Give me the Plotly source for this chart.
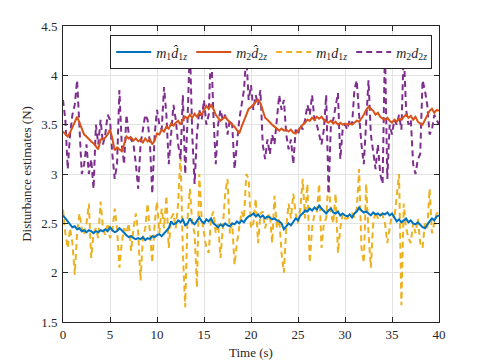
#!/usr/bin/env python3
# disturbance_estimates.py

import numpy as np
import plotly.graph_objects as go

# --- time axis (s), sampled every 0.25 s ---
time_s = np.arange(0, 40.001, 0.25)

# --- m1 * d1z estimate (solid blue) ---
m1_d1z_hat = [
    2.58, 2.55, 2.52, 2.50, 2.46, 2.47, 2.44, 2.45, 2.42,
    2.43, 2.41, 2.43, 2.42, 2.40, 2.42, 2.41, 2.43,
    2.42, 2.44, 2.42, 2.46, 2.43, 2.41, 2.42, 2.45,
    2.43, 2.40, 2.38, 2.36, 2.37, 2.35, 2.34, 2.35,
    2.34, 2.36, 2.33, 2.35, 2.34, 2.37, 2.36, 2.38,
    2.39, 2.37, 2.40, 2.42, 2.45, 2.52, 2.49, 2.50,
    2.53, 2.51, 2.54, 2.48, 2.50, 2.55, 2.51, 2.49,
    2.53, 2.56, 2.52, 2.50, 2.54, 2.52, 2.55, 2.50,
    2.48, 2.46, 2.49, 2.47, 2.50, 2.48, 2.47, 2.50,
    2.49, 2.52, 2.50, 2.53, 2.51, 2.55, 2.57, 2.58,
    2.60, 2.57, 2.59, 2.56, 2.58, 2.55, 2.57, 2.56,
    2.54, 2.55, 2.53, 2.52, 2.50, 2.44, 2.47, 2.50,
    2.48, 2.52, 2.55, 2.53, 2.58, 2.60, 2.63, 2.62,
    2.65, 2.63, 2.66, 2.64, 2.68, 2.65, 2.62, 2.60,
    2.63, 2.65, 2.61, 2.60, 2.62, 2.58, 2.60, 2.58,
    2.57, 2.59, 2.56, 2.60, 2.62, 2.66, 2.63, 2.61,
    2.62, 2.60, 2.58, 2.61, 2.59, 2.60, 2.58, 2.60,
    2.59, 2.61, 2.58, 2.60, 2.56, 2.52, 2.54, 2.51,
    2.53, 2.55, 2.51, 2.53, 2.50, 2.49, 2.51, 2.48,
    2.46, 2.45, 2.49, 2.52, 2.55, 2.53, 2.57, 2.58,
]

# --- m2 * d2z estimate (solid orange) ---
m2_d2z_hat = [
    3.43, 3.40, 3.38, 3.42, 3.48, 3.52, 3.58, 3.52, 3.45,
    3.40, 3.38, 3.35, 3.33, 3.31, 3.28, 3.25, 3.35,
    3.35, 3.37, 3.40, 3.45, 3.36, 3.24, 3.27, 3.25,
    3.23, 3.30, 3.38, 3.36, 3.37, 3.34, 3.36, 3.33,
    3.35, 3.32, 3.36, 3.33, 3.35, 3.30, 3.34, 3.41,
    3.40, 3.45, 3.43, 3.48, 3.46, 3.51, 3.49, 3.52,
    3.54, 3.50, 3.55, 3.58, 3.56, 3.60, 3.57, 3.61,
    3.58, 3.62, 3.60, 3.65, 3.69, 3.66, 3.70, 3.66,
    3.60, 3.57, 3.54, 3.56, 3.58, 3.55, 3.52, 3.50,
    3.48, 3.45, 3.41, 3.48, 3.55, 3.60, 3.66, 3.68,
    3.70, 3.73, 3.75, 3.72, 3.65, 3.57, 3.55, 3.52,
    3.50, 3.48, 3.46, 3.44, 3.46, 3.44, 3.45, 3.43,
    3.45, 3.42, 3.41, 3.44, 3.48, 3.50, 3.52, 3.55,
    3.54, 3.57, 3.55, 3.58, 3.56, 3.58, 3.55, 3.53,
    3.52, 3.54, 3.51, 3.53, 3.50, 3.52, 3.50, 3.51,
    3.50, 3.51, 3.50, 3.52, 3.54, 3.53, 3.56, 3.60,
    3.65, 3.68, 3.66, 3.64, 3.60, 3.62, 3.58, 3.56,
    3.55, 3.57, 3.54, 3.52, 3.55, 3.53, 3.56, 3.55,
    3.58, 3.60, 3.57, 3.59, 3.55, 3.58, 3.53, 3.51,
    3.50, 3.55, 3.60, 3.64, 3.66, 3.62, 3.65, 3.64,
]

# --- m1 * d1z true disturbance (dashed yellow) ---
m1_d1z = [
    2.64, 2.40, 2.25, 2.45, 2.30, 1.98, 2.40, 2.60, 2.45,
    2.38, 2.50, 2.70, 2.15, 2.40, 2.45, 2.35, 2.72,
    2.45, 2.38, 2.50, 2.35, 2.42, 2.65, 2.45, 2.05,
    2.30, 2.45, 2.40, 2.50, 2.22, 2.45, 2.60, 2.40,
    1.92, 2.35, 2.45, 2.70, 2.40, 2.10, 2.50, 2.72,
    2.40, 2.65, 2.45, 2.78, 2.25, 2.55, 2.60, 2.45,
    2.70, 3.22, 2.20, 1.65, 2.55, 2.85, 2.50, 2.40,
    1.85, 3.00, 2.55, 2.40, 2.25, 2.20, 2.55, 2.62,
    2.40, 2.50, 2.15, 2.45, 2.80, 2.95, 2.40, 2.50,
    2.08, 2.30, 2.45, 2.62, 2.55, 3.00, 2.95, 2.45,
    2.50, 2.75, 2.30, 2.60, 2.62, 2.45, 2.55, 2.60,
    2.30, 2.78, 2.45, 2.55, 2.20, 2.00, 2.45, 2.70,
    2.55, 2.80, 2.60, 2.50, 2.65, 2.95, 2.55, 2.90,
    2.10, 2.45, 2.60, 2.62, 2.90, 2.25, 2.50, 2.55,
    2.95, 2.60, 2.50, 2.80, 2.20, 2.45, 2.60, 2.55,
    2.55, 2.58, 2.60, 2.56, 2.65, 3.05, 2.25, 2.10,
    2.90, 2.40, 2.05, 2.50, 2.62, 2.55, 2.60, 2.58,
    2.50, 2.30, 2.45, 2.60, 2.55, 2.75, 3.00, 1.67,
    2.70, 2.45, 2.35, 2.30, 2.50, 2.40, 2.55, 2.30,
    2.25, 2.50, 2.45, 2.85, 2.40, 2.50, 2.60, 2.62,
]

# --- m2 * d2z true disturbance (dashed purple) ---
m2_d2z = [
    3.75, 3.55, 3.05, 3.40, 3.60, 3.70, 3.95, 3.45, 3.00,
    3.10, 3.30, 3.00, 3.15, 2.85, 3.50, 3.30, 3.55,
    3.30, 3.40, 3.60, 3.55, 3.20, 2.95, 3.10, 3.85,
    3.30, 3.10, 3.60, 3.40, 3.35, 3.30, 3.10, 2.85,
    3.30, 3.45, 3.60, 3.55, 3.30, 2.80, 3.40, 3.65,
    3.50, 3.45, 3.88, 3.60, 3.10, 3.40, 3.70, 3.55,
    3.30, 3.15, 3.80, 3.00, 3.55, 4.30, 3.40, 2.90,
    3.40, 3.65, 3.55, 3.75, 3.50, 3.60, 4.30, 3.60,
    3.10, 3.50, 3.65, 3.55, 3.60, 3.40, 3.55, 3.50,
    3.05, 3.30, 3.55, 3.70, 3.85, 4.20, 3.75, 3.90,
    3.65, 3.80, 3.70, 3.85, 3.30, 3.15, 3.35, 3.20,
    3.40, 3.30, 3.55, 3.80, 3.65, 3.75, 3.40, 3.25,
    3.35, 3.10, 3.45, 3.40, 3.50, 3.45, 3.55, 3.70,
    3.60, 3.80, 3.55, 3.50, 3.40, 3.30, 3.45, 3.80,
    2.80, 3.50, 3.55, 3.70, 3.82, 3.15, 3.45, 3.50,
    3.45, 3.55, 3.50, 3.85, 3.95, 3.60, 3.30, 3.10,
    3.50, 3.95, 3.40, 3.20, 3.05, 3.30, 3.00, 2.90,
    4.30, 2.95, 3.50, 3.40, 3.55, 3.50, 3.60, 3.45,
    4.25, 3.65, 3.50, 3.55, 3.10, 3.00, 3.15, 3.20,
    3.95, 3.85, 3.70, 3.40, 3.45, 3.60, 3.55, 3.50,
]

x_ticks = [0, 5, 10, 15, 20, 25, 30, 35, 40]
y_ticks = [1.5, 2, 2.5, 3, 3.5, 4, 4.5]
y_tick_text = ["1.5", "2", "2.5", "3", "3.5", "4", "4.5"]


def main():
    serif = '"Liberation Serif", "Times New Roman", "DejaVu Serif", serif'
    dash_pat = "6px,4px"
    ink = "#262626"

    series = [
        (m1_d1z_hat, "#0072BD", "solid",
         "<i>m</i><sub>1</sub><i>d\u0302</i><sub>1<i>z</i></sub>"),
        (m2_d2z_hat, "#D95319", "solid",
         "<i>m</i><sub>2</sub><i>d\u0302</i><sub>2<i>z</i></sub>"),
        (m1_d1z, "#EDB120", dash_pat,
         "<i>m</i><sub>1</sub><i>d</i><sub>1<i>z</i></sub>"),
        (m2_d2z, "#7E2F8E", dash_pat,
         "<i>m</i><sub>2</sub><i>d</i><sub>2<i>z</i></sub>"),
    ]

    fig = go.Figure()
    # draw dashed series first so the estimates sit on top
    for idx in [2, 3, 0, 1]:
        vals, color, dash, name = series[idx]
        fig.add_trace(go.Scatter(
            x=time_s, y=vals, mode="lines", name=name,
            line=dict(color=color, width=2, dash=dash),
            legendrank=idx,
        ))

    axis_common = dict(
        showline=True, linecolor=ink, linewidth=1, mirror="ticks",
        ticks="inside", ticklen=5, tickcolor=ink,
        showgrid=True, gridcolor="#e3e3e3", gridwidth=1,
        zeroline=False, automargin=False,
        tickfont=dict(family=serif, size=13, color=ink),
    )

    # page body keeps its default 8px margin, so the figure is offset by 8px
    fig.update_layout(
        width=477, height=355,
        paper_bgcolor="white", plot_bgcolor="white",
        margin=dict(l=55, r=46, t=18, b=41),
        xaxis=dict(range=[0, 40], tickvals=x_ticks, ticklabelstandoff=0, **axis_common),
        yaxis=dict(
            range=[1.5, 4.5], tickvals=y_ticks, ticktext=y_tick_text,
            ticklabelstandoff=2,
            title=dict(text="Disturbance estimates (N)",
                       font=dict(family=serif, size=13, color=ink), standoff=6),
            **axis_common,
        ),
        legend=dict(
            orientation="h", x=0.982, xanchor="right", y=0.968, yanchor="top",
            bgcolor="white", bordercolor=ink, borderwidth=1,
            font=dict(family=serif, size=14, color=ink),
            itemwidth=35, entrywidth=30, entrywidthmode="pixels",
            tracegroupgap=0,
        ),
        showlegend=True,
    )

    # x axis title placed under the tick labels
    fig.add_annotation(
        text="Time (s)", xref="paper", yref="paper", x=0.5, y=0,
        yanchor="middle", yshift=-30, showarrow=False,
        font=dict(family=serif, size=13, color=ink),
    )

    fig.write_html("out.html")


if __name__ == "__main__":
    main()
